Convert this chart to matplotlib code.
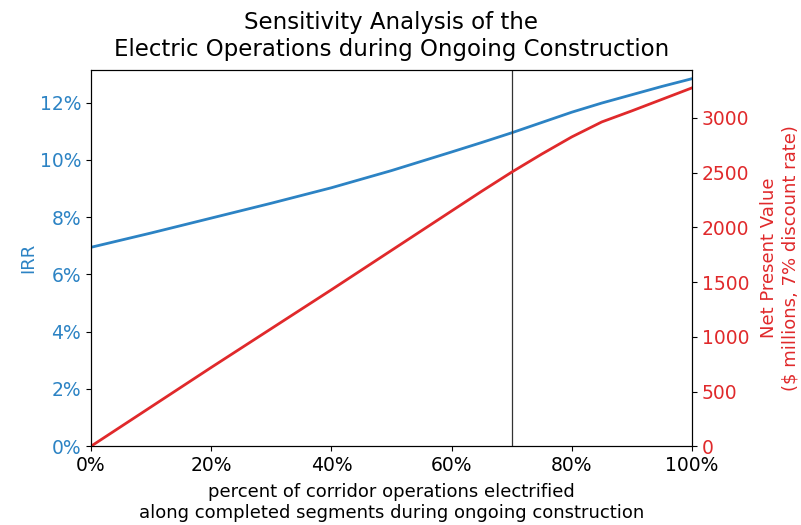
import numpy as np
import matplotlib
matplotlib.use('Agg')
import matplotlib.pyplot as plt
from matplotlib.ticker import PercentFormatter

# percent of corridor operations electrified
pct = [0, 10, 20, 30, 40, 50, 60, 65, 70, 75, 80, 85, 90, 95, 100]
# IRR in percent
irr = [6.95, 7.45, 7.97, 8.49, 9.03, 9.63, 10.28, 10.61, 10.95, 11.31, 11.67, 11.99, 12.28, 12.57, 12.84]
# NPV, $ millions
npv = [0, 360, 720, 1075, 1430, 1790, 2150, 2330, 2505, 2670, 2827, 2964, 3065, 3170, 3275]

blue = '#2c83c4'
red = '#e0292b'

fig = plt.figure(figsize=(8.01, 5.25), dpi=100)
ax = fig.add_axes([0.1136, 0.150, 0.7503, 0.717])
ax2 = ax.twinx()

ax.plot(pct, irr, color=blue, lw=2)
ax2.plot(pct, npv, color=red, lw=2)
ax.axvline(70, color='#333333', lw=0.9)

ax.set_xlim(0, 100)
ax.set_ylim(0, 13.15)
ax2.set_ylim(0, 3440)
ax.set_xticks([0, 20, 40, 60, 80, 100])
ax.set_yticks([0, 2, 4, 6, 8, 10, 12])
ax2.set_yticks([0, 500, 1000, 1500, 2000, 2500, 3000])
ax.xaxis.set_major_formatter(PercentFormatter(decimals=0))
ax.yaxis.set_major_formatter(PercentFormatter(decimals=0))

ax.tick_params(axis='x', labelsize=13.5)
ax.tick_params(axis='y', labelsize=13.5, labelcolor=blue)
ax2.tick_params(axis='y', labelsize=13.5, labelcolor=red)

ax.set_ylabel('IRR', color=blue, fontsize=13, labelpad=2)
ax2.set_ylabel('Net Present Value\n($ millions, 7% discount rate)', color=red, fontsize=13, labelpad=8)
ax.set_xlabel('percent of corridor operations electrified\nalong completed segments during ongoing construction',
              fontsize=13, labelpad=6)
ax.set_title('Sensitivity Analysis of the\nElectric Operations during Ongoing Construction', fontsize=16.5, pad=10)

fig.savefig('out.png', dpi=100)
